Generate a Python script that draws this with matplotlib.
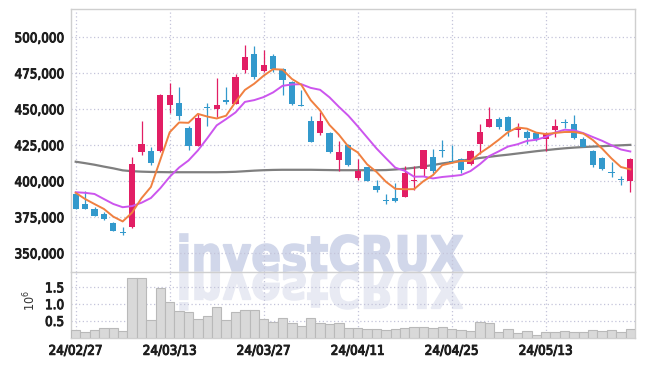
import matplotlib
matplotlib.use("Agg")
import matplotlib.pyplot as plt
from matplotlib import font_manager as fm
from matplotlib import patheffects as pe
from matplotlib.textpath import TextPath
from matplotlib.patches import PathPatch
from matplotlib.transforms import Affine2D, IdentityTransform
from matplotlib.ticker import FuncFormatter
import numpy as np

# --- data (daily candles, KRW) ---
tick_labels = ["24/02/27", "24/03/13", "24/03/27", "24/04/11", "24/04/25", "24/05/13"]

opens = [391200, 384300, 381000, 377300, 371000, 364800, 368300, 420100, 421100, 421300,
         453200, 454400, 437000, 424800, 451600, 450500, 456500, 453900, 477500, 488400,
         476900, 487000, 477800, 469000, 453200, 441900, 433800, 433600, 415000, 425500,
         402500, 409700, 396800, 387300, 388200, 389300, 400000, 408800, 416900, 421800,
         414100, 415300, 411800, 425700, 438000, 443100, 444400, 435400, 434300, 433300,
         429200, 435400, 440700, 439800, 429200, 421100, 416400, 406700, 401400, 400500]
highs = [392000, 393300, 382000, 378700, 371500, 368300, 416700, 442100, 424100, 460900,
         468500, 465300, 438700, 447000, 454200, 471500, 465500, 474800, 494400, 493800,
         491400, 488400, 478500, 469900, 463200, 445100, 448400, 434000, 428000, 426200,
         415300, 410100, 400700, 391000, 398600, 410900, 410900, 421600, 422200, 428500,
         425000, 416400, 421700, 439600, 451900, 444900, 445600, 440700, 435600, 434500,
         434000, 443100, 443500, 446100, 431000, 421700, 417100, 413700, 403700, 416000]
lows = [380500, 380500, 375900, 372900, 365500, 362700, 367300, 418300, 411300, 420600,
        447200, 442800, 421500, 424500, 438200, 444900, 453900, 453900, 475000, 471100,
        476200, 476200, 459700, 453200, 452100, 427300, 432200, 419700, 406900, 410900,
        400900, 400400, 392400, 384000, 385500, 388900, 394000, 403700, 405600, 417100,
        412500, 405600, 411300, 418700, 437500, 436100, 431500, 431000, 425900, 427800,
        421300, 431000, 436800, 429400, 423600, 409700, 407900, 403200, 397500, 392800]
closes = [380500, 381000, 376000, 374000, 365700, 363900, 411800, 425900, 413000, 460000,
          459700, 445600, 424800, 444000, 450700, 453000, 455300, 472200, 486100, 472500,
          480800, 477800, 470600, 453700, 452300, 427500, 441900, 420100, 420100, 411100,
          407200, 400500, 393700, 386100, 386500, 405600, 400900, 421500, 406900, 421100,
          413400, 407900, 421100, 434000, 443100, 438000, 434700, 437000, 430100, 429200,
          433100, 438400, 440300, 430300, 423600, 411100, 408300, 406000, 400700, 415300]

ma5 = [392000, 387700, 384200, 380800, 375440, 372120, 378280, 388260, 396060, 414920,
       434080, 440840, 440620, 446820, 444960, 443620, 445560, 455040, 463460, 467820,
       473380, 477880, 477560, 471080, 467040, 456380, 449200, 439100, 432380, 424140,
       420080, 411800, 406520, 399720, 394800, 394480, 394560, 400120, 404280, 411200,
       412760, 414160, 414080, 419500, 423900, 428820, 434180, 437360, 436580, 433800,
       432820, 433560, 434220, 434260, 433140, 428740, 422720, 415860, 409940, 408280]
ma10 = [392400, 392000, 391200, 387700, 384250, 382000, 382800, 385100, 388400, 395180,
        403100, 409560, 414440, 421440, 429940, 438850, 443200, 447830, 455140, 456390,
        458500, 461720, 466300, 467270, 467430, 464880, 463540, 458330, 451730, 445590,
        438230, 430500, 422810, 416050, 409470, 407280, 403180, 403320, 402000, 403000,
        403620, 404360, 407100, 411890, 417550, 420790, 424170, 425720, 428040, 428850,
        430820, 433870, 435790, 435420, 433470, 430780, 428140, 425040, 422100, 420710]
ma_long = [413600, 412600, 411500, 410200, 409000, 407600, 407000, 406700, 406500, 406400,
           406300, 406300, 406300, 406300, 406300, 406300, 406400, 406600, 407000, 407400,
           407700, 407900, 408000, 408000, 408000, 408000, 407900, 407800, 407700, 407700,
           407700, 407700, 407700, 407800, 408200, 408700, 409400, 410300, 411300, 412400,
           413300, 414300, 415200, 416200, 417000, 417800, 418500, 419300, 420100, 420900,
           421600, 422300, 422900, 423400, 423800, 424100, 424400, 424700, 425000, 425300]

volume_m = [0.22, 0.17, 0.22, 0.28, 0.28, 0.20, 1.77, 1.77, 0.52, 1.47,
            1.05, 0.80, 0.76, 0.55, 0.64, 0.91, 0.52, 0.76, 0.82, 0.82,
            0.55, 0.48, 0.58, 0.44, 0.34, 0.58, 0.43, 0.40, 0.43, 0.30,
            0.28, 0.26, 0.25, 0.23, 0.25, 0.29, 0.33, 0.33, 0.30, 0.33,
            0.25, 0.23, 0.20, 0.46, 0.43, 0.18, 0.25, 0.15, 0.21, 0.09,
            0.16, 0.18, 0.19, 0.17, 0.18, 0.22, 0.19, 0.22, 0.17, 0.25]

# --- fonts: narrow bold labels if available ---
names = {f.name for f in fm.fontManager.ttflist}
if "Liberation Sans Narrow" in names:
    plt.rcParams["font.family"] = "Liberation Sans Narrow"
    plt.rcParams["font.weight"] = "bold"
    lab_size = 11.5
else:
    plt.rcParams["font.family"] = "DejaVu Sans"
    plt.rcParams["font.stretch"] = "condensed"
    lab_size = 9.6

UP, DOWN = "#e21e64", "#3399cc"
GRID = "#c4c4da"
SPINE = "#cfcfcf"
LAB = "#1e1e1e"
bold_fx = [pe.withStroke(linewidth=0.7, foreground=LAB)]

W, H = 645, 366
fig = plt.figure(figsize=(W / 100, H / 100), dpi=100)
left, right = 71 / W, 635 / W
ax = fig.add_axes([left, 1 - 272.3 / H, right - left, (272.3 - 9.3) / H])
axv = fig.add_axes([left, 1 - 337.8 / H, right - left, (337.8 - 272.3) / H], sharex=ax)
for a in (ax, axv):
    a.set_facecolor("none")

x = np.arange(len(closes))
o, h, l, c = map(np.array, (opens, highs, lows, closes))
col = np.where(c >= o, UP, DOWN)

# candles
ax.vlines(x, l, h, colors=col, linewidth=0.9, zorder=3)
body = np.maximum(np.abs(c - o), 800)
ax.bar(x, body, bottom=np.minimum(o, c), width=0.68, color=col, zorder=4)

# moving averages
ax.plot(x, ma_long, color="#7f7f7f", lw=1.6, zorder=2)
ax.plot(x, ma10, color="#cc55ee", lw=1.4, zorder=5)
ax.plot(x, ma5, color="#f08040", lw=1.4, zorder=5)

ax.set_xlim(-0.5, len(x) - 0.5)
ax.set_ylim(336800, 519450)
ax.set_yticks(np.arange(350000, 500001, 25000))
ax.yaxis.set_major_formatter(FuncFormatter(lambda v, p: f"{v:,.0f}"))
ax.set_xticks(np.arange(0, 60, 10))
ax.tick_params(axis="x", labelbottom=False, length=0)
ax.tick_params(axis="y", length=0, pad=5, labelsize=lab_size, labelcolor=LAB)

# volume
axv.bar(x, np.array(volume_m) * 1e6, width=1.0, color="#d9d9d9",
        edgecolor="#b9b9b9", linewidth=0.8, zorder=3)
axv.set_ylim(0, 1.945e6)
axv.set_yticks([0.5e6, 1.0e6, 1.5e6])
axv.set_yticklabels(["0.5", "1.0", "1.5"])
axv.set_xticks(np.arange(0, 60, 10))
axv.set_xticklabels(tick_labels)
axv.tick_params(length=0, labelsize=lab_size, labelcolor=LAB)
axv.tick_params(axis="y", pad=5)
axv.tick_params(axis="x", pad=5)

for a in (ax, axv):
    a.grid(True, color=GRID, linestyle=(0, (1, 2)), linewidth=0.9)
    a.set_axisbelow(True)
    for s in a.spines.values():
        s.set_color(SPINE)
        s.set_linewidth(1.0)
    for t in a.get_xticklabels() + a.get_yticklabels():
        t.set_path_effects(bold_fx)
axv.spines["top"].set_visible(False)

fig.text(30 / W, 1 - 301 / H, r"$10^6$", rotation=90, ha="center", va="center",
         fontsize=9, color="#333333", family="DejaVu Sans", weight="normal")

# watermark with reflection (pixel coords)
tp = TextPath((0, 0), "investCRUX", size=100,
              prop=fm.FontProperties(family="DejaVu Sans", weight="bold"))
ext = tp.get_extents()
sx = (463 - 180) / ext.width
sy = (272.3 - 234) / ext.y1
base = H - 272.3
t_up = Affine2D().translate(-ext.x0, 0).scale(sx, sy).translate(180, base)
t_dn = Affine2D().translate(-ext.x0, 0).scale(sx, -sy * 0.98).translate(180, base)
fig.add_artist(PathPatch(t_up.transform_path(tp), facecolor="#d1d7ea", edgecolor="#d1d7ea",
                         linewidth=1.2, transform=IdentityTransform(), zorder=-1))
fig.add_artist(PathPatch(t_dn.transform_path(tp), facecolor="#e8eaf3", edgecolor="#e8eaf3",
                         linewidth=1.2, transform=IdentityTransform(), zorder=-1))

fig.savefig("out.png", dpi=100)
